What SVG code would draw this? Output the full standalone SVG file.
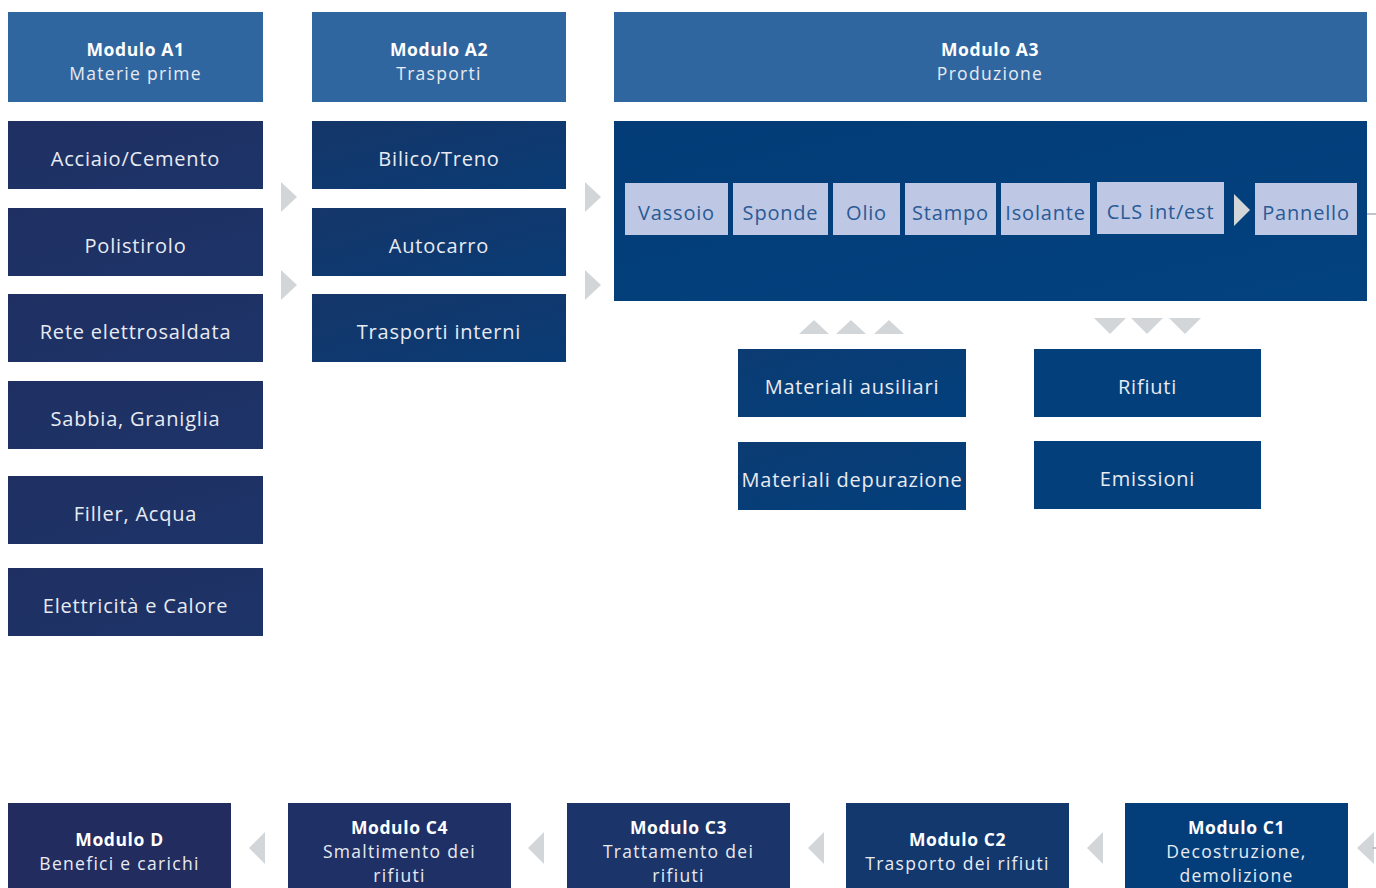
<svg xmlns="http://www.w3.org/2000/svg" width="1376" height="888" viewBox="0 0 1376 888">
<defs>
<linearGradient id="gA1" x1="0" y1="0" x2="1" y2="1"><stop offset="0" stop-color="#1f2f62"/><stop offset="1" stop-color="#1d3469"/></linearGradient>
<linearGradient id="gA2" x1="0" y1="0" x2="1" y2="1"><stop offset="0" stop-color="#153669"/><stop offset="1" stop-color="#093b74"/></linearGradient>
<linearGradient id="gA3" x1="0" y1="0" x2="1" y2="1"><stop offset="0" stop-color="#033c77"/><stop offset="1" stop-color="#02427f"/></linearGradient>
<linearGradient id="gM" x1="0" y1="0" x2="1" y2="1"><stop offset="0" stop-color="#0c3b72"/><stop offset="1" stop-color="#02407d"/></linearGradient>
</defs>
<style>
.hdr{fill:#3066a0}
.t{font-family:"Open Sans","Noto Sans",sans-serif;font-size:20px;letter-spacing:0.8px;fill:#e8ebf2;text-anchor:middle}
.m{font-family:"Open Sans","Noto Sans",sans-serif;font-size:17.5px;letter-spacing:1.3px;fill:#e8ebf2;text-anchor:middle}
.b{font-weight:700;fill:#ffffff;letter-spacing:0.6px}
.in{fill:#bec8e4}
.ti{font-family:"Open Sans","Noto Sans",sans-serif;font-size:20px;letter-spacing:0.8px;fill:#2a5a95;text-anchor:middle}
.arr{fill:#d3d6d9}
</style>
<rect width="1376" height="888" fill="#ffffff"/>

<g id="hdrA1"><rect class="hdr" x="8" y="12" width="255" height="90"/><text class="m b" x="135.5" y="56">Modulo A1</text><text class="m" x="135.5" y="80">Materie prime</text></g>
<g id="hdrA2"><rect class="hdr" x="312" y="12" width="254" height="90"/><text class="m b" x="439" y="56">Modulo A2</text><text class="m" x="439" y="80">Trasporti</text></g>
<g id="hdrA3"><rect class="hdr" x="614" y="12" width="753" height="90"/><text class="m b" x="990" y="56">Modulo A3</text><text class="m" x="990" y="80">Produzione</text></g>

<g id="a1-acciaio"><rect fill="url(#gA1)" x="8" y="121" width="255" height="68"/><text class="t" x="135.5" y="166">Acciaio/Cemento</text></g>
<g id="a1-polistirolo"><rect fill="url(#gA1)" x="8" y="208" width="255" height="68"/><text class="t" x="135.5" y="253">Polistirolo</text></g>
<g id="a1-rete"><rect fill="url(#gA1)" x="8" y="294" width="255" height="68"/><text class="t" x="135.5" y="339">Rete elettrosaldata</text></g>
<g id="a1-sabbia"><rect fill="url(#gA1)" x="8" y="381" width="255" height="68"/><text class="t" x="135.5" y="426">Sabbia, Graniglia</text></g>
<g id="a1-filler"><rect fill="url(#gA1)" x="8" y="476" width="255" height="68"/><text class="t" x="135.5" y="521">Filler, Acqua</text></g>
<g id="a1-elettricita"><rect fill="url(#gA1)" x="8" y="568" width="255" height="68"/><text class="t" x="135.5" y="613">Elettricità e Calore</text></g>

<g id="a2-bilico"><rect fill="url(#gA2)" x="312" y="121" width="254" height="68"/><text class="t" x="439" y="166">Bilico/Treno</text></g>
<g id="a2-autocarro"><rect fill="url(#gA2)" x="312" y="208" width="254" height="68"/><text class="t" x="439" y="253">Autocarro</text></g>
<g id="a2-interni"><rect fill="url(#gA2)" x="312" y="294" width="254" height="68"/><text class="t" x="439" y="339">Trasporti interni</text></g>

<g id="a3-box">
<rect fill="url(#gA3)" x="614" y="121" width="753" height="180"/>
<g id="a3-vassoio"><rect class="in" x="625" y="183" width="103" height="52"/><text class="ti" x="676.5" y="220">Vassoio</text></g>
<g id="a3-sponde"><rect class="in" x="733" y="183" width="95" height="52"/><text class="ti" x="780.5" y="220">Sponde</text></g>
<g id="a3-olio"><rect class="in" x="833" y="183" width="67" height="52"/><text class="ti" x="866.5" y="220">Olio</text></g>
<g id="a3-stampo"><rect class="in" x="905" y="183" width="91" height="52"/><text class="ti" x="950.5" y="220">Stampo</text></g>
<g id="a3-isolante"><rect class="in" x="1001" y="183" width="89" height="52"/><text class="ti" x="1045.5" y="220">Isolante</text></g>
<g id="a3-cls"><rect class="in" x="1097" y="182" width="127" height="52"/><text class="ti" x="1160.5" y="219">CLS int/est</text></g>
<g id="a3-pannello"><rect class="in" x="1255" y="183" width="102" height="52"/><text class="ti" x="1306" y="220">Pannello</text></g>
</g>

<g id="aux-ausiliari"><rect fill="url(#gM)" x="738" y="349" width="228" height="68"/><text class="t" x="852" y="394">Materiali ausiliari</text></g>
<g id="aux-depurazione"><rect fill="url(#gM)" x="738" y="442" width="228" height="68"/><text class="t" x="852" y="487" letter-spacing="0.6">Materiali depurazione</text></g>
<g id="out-rifiuti"><rect fill="#033f7b" x="1034" y="349" width="227" height="68"/><text class="t" x="1147.5" y="394">Rifiuti</text></g>
<g id="out-emissioni"><rect fill="#033f7b" x="1034" y="441" width="227" height="68"/><text class="t" x="1147.5" y="486">Emissioni</text></g>

<g id="modD"><rect fill="#232c5e" x="8" y="803" width="223" height="90"/><text class="m b" x="119.5" y="846">Modulo D</text><text class="m" x="119.5" y="870">Benefici e carichi</text></g>
<g id="modC4"><rect fill="#1f3066" x="288" y="803" width="223" height="90"/><text class="m b" x="399.5" y="834">Modulo C4</text><text class="m" x="399.5" y="858">Smaltimento dei</text><text class="m" x="399.5" y="882">rifiuti</text></g>
<g id="modC3"><rect fill="#1b3469" x="567" y="803" width="223" height="90"/><text class="m b" x="678.5" y="834">Modulo C3</text><text class="m" x="678.5" y="858">Trattamento dei</text><text class="m" x="678.5" y="882">rifiuti</text></g>
<g id="modC2"><rect fill="#12386e" x="846" y="803" width="223" height="90"/><text class="m b" x="957.5" y="846">Modulo C2</text><text class="m" x="957.5" y="870" letter-spacing="0.9">Trasporto dei rifiuti</text></g>
<g id="modC1"><rect fill="#033e7a" x="1125" y="803" width="223" height="90"/><text class="m b" x="1236.5" y="834">Modulo C1</text><text class="m" x="1236.5" y="858">Decostruzione,</text><text class="m" x="1236.5" y="882">demolizione</text></g>

<g id="connectors">
<polygon class="arr" points="281,182 297,197 281,212"/>
<polygon class="arr" points="281,270 297,285 281,300"/>
<polygon class="arr" points="585,182 601,197 585,212"/>
<polygon class="arr" points="585,270 601,285 585,300"/>
<polygon class="arr" points="1234,194 1250,210 1234,226"/>
<line x1="1367" y1="214" x2="1376" y2="214" stroke="#c0c4c8" stroke-width="2"/>
<polygon class="arr" points="799,334 814,320 829,334"/>
<polygon class="arr" points="836,334 851,320 866,334"/>
<polygon class="arr" points="874,334 889,320 904,334"/>
<polygon class="arr" points="1094,318 1126,318 1110,334"/>
<polygon class="arr" points="1131,318 1163,318 1147,334"/>
<polygon class="arr" points="1169,318 1201,318 1185,334"/>
<polygon class="arr" points="265,832 249,848 265,864"/>
<polygon class="arr" points="544,832 528,848 544,864"/>
<polygon class="arr" points="824,832 808,848 824,864"/>
<polygon class="arr" points="1103,832 1087,848 1103,864"/>
<polygon class="arr" points="1374,832 1357,848 1374,864"/>
<line x1="1372" y1="848" x2="1376" y2="848" stroke="#c0c4c8" stroke-width="2"/>
</g>
</svg>
